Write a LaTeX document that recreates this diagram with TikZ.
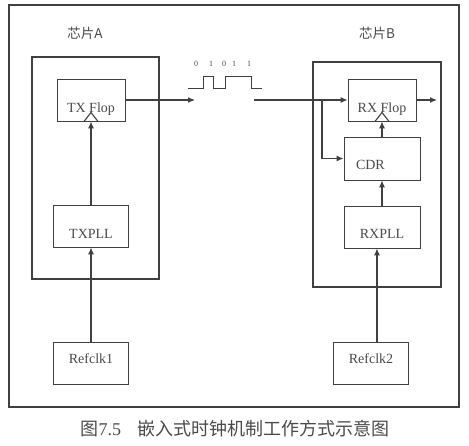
\documentclass[tikz,border=0pt]{standalone}
\usepackage{fontspec}
\setmainfont{Liberation Serif}
\newfontfamily\cjk{Noto Sans CJK SC}
\usepackage{tikz}
\usetikzlibrary{arrows.meta}
\definecolor{ink}{HTML}{404040}
\definecolor{txt}{HTML}{4A4A4A}

\begin{document}
\begin{tikzpicture}[x=1pt, y=-1pt, >={Latex[length=7pt,width=6pt]}, color=ink, line width=1.1pt,
  blk/.style={rectangle, draw, line width=0.9pt, minimum height=42pt, inner sep=0pt, text=txt, font=\fontsize{14}{14}\selectfont},
  frame/.style={rectangle, draw, line width=1.3pt, inner sep=0pt},
  lbl/.style={inner sep=0pt, text=txt},
  bit/.style={inner sep=0pt, text=txt, font=\fontsize{8}{8}\selectfont}]
  \useasboundingbox (0,0) rectangle (469,445);
  \node (board) [frame, line width=1.6pt, minimum width=450pt, minimum height=402pt] at (234,206) {};
  \node (chipa) [frame, minimum width=127pt, minimum height=222pt] at (95.5,168) {};
  \node (chipb) [frame, minimum width=128pt, minimum height=225pt] at (377,174.5) {};
  \node (namea) [lbl, font=\cjk\fontsize{13.5}{13.5}\selectfont] at (85,33) {芯片A};
  \node (nameb) [lbl, font=\cjk\fontsize{13.5}{13.5}\selectfont] at (377,33) {芯片B};
  % chip A
  \node (txf) [blk, minimum width=68pt, text height=24pt, text depth=0pt] at (91,100) {TX Flop};
  \node (txpll) [blk, minimum width=75pt, text height=24pt, text depth=0pt] at (91,226) {TXPLL};
  \node (ref1) [blk, minimum width=75pt, text height=6pt, text depth=6pt] at (91,363) {Refclk1};
  \draw ([xshift=-7pt]txf.south) -- ([yshift=9pt]txf.south) -- ([xshift=7pt]txf.south);
  \draw[->] (ref1) -- (txpll);
  \draw[->] (txpll) -- (txf);
  \coordinate (txout) at (195,100);
  \draw[->] (txf) -- (txout);
  % serial data
  \draw[line width=0.9pt] (188,88) -- (203,88) -- (203,76) -- (213,76) -- (213,88) -- (225,88) -- (225,76) -- (251,76) -- (251,88) -- (262,88);
  \node (b0) [bit] at (196,64) {0};
  \node (b1) [bit] at (211,64) {1};
  \node (b2) [bit] at (224,64) {0};
  \node (b3) [bit] at (234,64) {1};
  \node (b4) [bit] at (249,64) {1};
  % chip B
  \node (rxf) [blk, minimum width=68pt, text height=24pt, text depth=0pt] at (382,100) {RX Flop};
  \node (cdr) [blk, minimum width=76pt, minimum height=43pt, text width=52pt, inner xsep=12pt, align=left, text height=21pt, text depth=0pt] at (382,158.5) {CDR};
  \node (rxpll) [blk, minimum width=76pt, text height=22pt, text depth=0pt] at (382,227) {RXPLL};
  \node (ref2) [blk, minimum width=75pt, text height=6pt, text depth=6pt] at (371,363) {Refclk2};
  \draw ([xshift=-7pt]rxf.south) -- ([yshift=9pt]rxf.south) -- ([xshift=7pt]rxf.south);
  \coordinate (rxin) at (254,100);
  \coordinate (tap) at (322,100);
  \coordinate (rxout) at (437,100);
  \draw[->] (rxin) -- (rxf);
  \draw[->] (tap) |- (cdr);
  \draw[->] (rxf) -- (rxout);
  \draw[->] (cdr) -- (rxf);
  \draw[->] (rxpll) -- (cdr);
  \draw[->] ([xshift=6pt]ref2.north) -- ([xshift=6pt]ref2.north |- rxpll.south);
  % caption
  \node (caption) [lbl, anchor=west, font=\fontsize{18}{18}\selectfont] at (80,429) {{\cjk 图}7.5\hspace{16.5pt}{\cjk 嵌入式时钟机制工作方式示意图}};
\end{tikzpicture}
\end{document}
